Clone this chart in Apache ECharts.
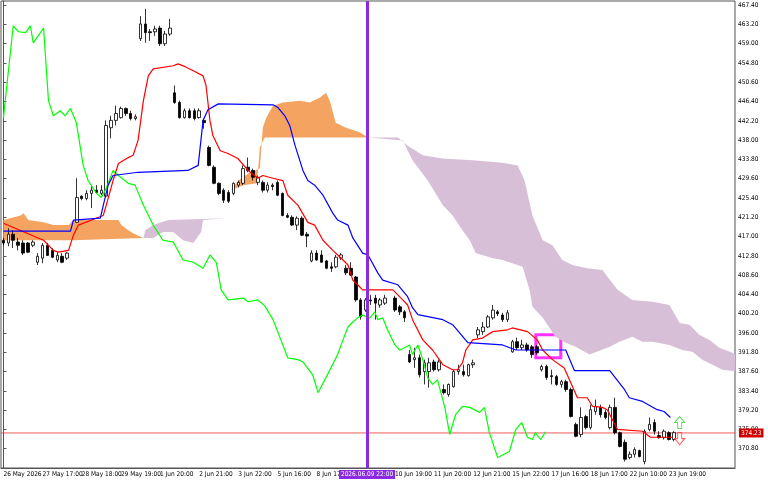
<!DOCTYPE html>
<html>
<head>
<meta charset="utf-8">
<script src="https://cdn.jsdelivr.net/npm/echarts@6/dist/echarts.min.js"></script>
<style>html,body{margin:0;padding:0;background:#fff}#chart{width:768px;height:480px}</style>
</head>
<body>
<div id="chart"></div>
<script>
var N = 150

// time labels every 8 bars
var timeLabels = ['26 May 2026', '27 May 17:00', '28 May 18:00', '29 May 19:00', '1 Jun 20:00', '2 Jun 21:00',
  '3 Jun 22:00', '5 Jun 16:00', '8 Jun 17:00', '', '10 Jun 19:00', '11 Jun 20:00', '12 Jun 21:00',
  '15 Jun 22:00', '17 Jun 16:00', '18 Jun 17:00', '22 Jun 10:00', '23 Jun 19:00']

// [bar, open, close, low, high]
var candles = [
  [0, 416.2, 415.6, 415.1, 416.7], [1, 415.6, 417.5, 414.9, 418.8], [2, 417.5, 416.2, 414.5, 418.4],
  [3, 415.8, 415.1, 414.0, 416.7], [4, 415.6, 413.4, 413.0, 416.2], [5, 415.6, 413.6, 413.4, 415.8],
  [6, 415.1, 415.8, 414.7, 416.2], [7, 411.4, 412.7, 410.8, 413.4], [8, 412.3, 415.1, 411.2, 415.6],
  [9, 415.1, 412.9, 412.8, 415.6], [10, 414.0, 412.5, 412.3, 414.5], [11, 411.9, 412.9, 411.4, 413.6],
  [12, 412.7, 411.4, 411.2, 413.4], [13, 412.3, 413.4, 411.9, 413.6],
  [15, 420.1, 425.5, 420.1, 429.7], [16, 425.8, 425.3, 424.9, 426.0], [17, 425.3, 426.4, 424.9, 427.1],
  [18, 426.4, 427.1, 423.2, 428.2], [19, 427.1, 426.6, 426.4, 428.2], [20, 426.4, 427.1, 426.0, 428.2],
  [21, 425.8, 441.2, 425.5, 442.3], [22, 440.7, 442.3, 438.4, 443.3], [23, 442.3, 443.8, 441.2, 445.5],
  [24, 442.9, 444.9, 442.7, 445.3], [25, 444.9, 443.8, 443.3, 445.1], [26, 443.8, 442.7, 442.3, 444.4],
  [27, 442.7, 443.1, 442.3, 443.6],
  [28, 460.1, 463.3, 459.6, 465.0], [29, 463.3, 461.4, 459.2, 466.6], [30, 461.6, 461.4, 459.6, 462.2],
  [31, 461.6, 462.2, 460.7, 462.9], [32, 462.4, 459.0, 458.5, 462.9], [33, 459.0, 461.1, 458.5, 461.8],
  [34, 461.1, 462.4, 460.7, 464.4],
  [35, 448.3, 446.2, 445.9, 449.9], [36, 446.2, 442.9, 442.7, 446.6], [37, 442.9, 444.4, 442.7, 444.9],
  [38, 444.4, 442.9, 442.7, 444.9], [39, 444.4, 442.7, 442.3, 444.9], [40, 442.9, 444.4, 442.7, 444.9],
  [41, 442.3, 441.8, 440.5, 442.7],
  [42, 436.4, 432.5, 432.3, 436.8], [43, 432.1, 428.6, 428.4, 432.5], [44, 428.6, 426.4, 426.0, 428.8],
  [45, 427.1, 424.9, 424.3, 427.5], [46, 426.6, 424.7, 424.3, 427.1], [47, 426.4, 428.6, 426.0, 428.8],
  [48, 428.2, 428.8, 427.7, 429.2],
  [49, 428.6, 431.8, 428.2, 432.5], [50, 432.1, 431.4, 431.0, 434.2], [51, 431.4, 429.9, 429.2, 431.8],
  [52, 428.8, 429.9, 428.2, 430.3], [53, 428.8, 427.1, 426.6, 429.2], [54, 427.1, 428.2, 426.6, 428.8],
  [55, 428.2, 427.9, 427.1, 428.6], [56, 428.8, 426.0, 425.8, 429.2],
  [57, 426.4, 421.6, 421.4, 426.6], [58, 421.6, 421.2, 421.0, 422.1], [59, 421.2, 419.5, 419.3, 421.6],
  [60, 419.5, 421.0, 418.4, 421.4], [61, 421.0, 417.3, 417.1, 421.4], [62, 417.5, 417.1, 414.7, 418.0],
  [63, 411.7, 413.4, 411.4, 414.0], [64, 413.4, 411.9, 411.7, 414.0], [65, 413.0, 411.4, 411.4, 414.0],
  [66, 411.7, 410.1, 409.9, 411.9], [67, 410.4, 410.1, 409.3, 411.4], [68, 410.4, 412.5, 410.1, 413.0],
  [69, 412.3, 413.0, 411.9, 413.4], [70, 410.1, 409.1, 408.6, 410.8], [71, 410.1, 408.6, 408.4, 411.4],
  [72, 408.2, 403.2, 402.8, 408.4], [73, 403.2, 399.5, 398.9, 403.6], [74, 401.0, 403.2, 400.6, 403.6],
  [75, 403.2, 403.0, 402.1, 404.3], [76, 403.6, 402.5, 398.9, 404.3], [77, 402.1, 403.2, 401.5, 403.6],
  [78, 402.5, 403.6, 402.1, 404.3], [80, 403.6, 401.0, 400.6, 404.1], [81, 401.7, 400.6, 399.9, 402.1],
  [82, 400.6, 399.3, 398.4, 401.0],
  [83, 391.3, 389.7, 389.5, 392.3], [84, 390.2, 390.6, 388.4, 392.8], [85, 390.6, 386.9, 386.3, 391.3],
  [86, 387.6, 389.5, 384.8, 390.2], [87, 387.6, 389.5, 384.1, 390.6], [88, 389.7, 388.0, 387.6, 390.2],
  [89, 388.0, 389.7, 387.6, 390.2], [90, 383.7, 383.0, 382.6, 384.8], [91, 382.6, 384.8, 382.1, 385.0],
  [92, 384.3, 387.6, 384.1, 388.0], [93, 387.6, 388.0, 386.9, 389.1], [94, 387.6, 386.9, 386.5, 389.1],
  [95, 386.7, 389.1, 386.5, 389.3], [96, 389.1, 389.5, 388.4, 390.2],
  [97, 395.6, 396.7, 394.9, 397.3], [98, 396.3, 397.3, 395.6, 398.4], [99, 397.3, 399.5, 397.1, 399.9],
  [100, 399.3, 401.0, 398.9, 402.1], [101, 400.6, 400.2, 399.7, 401.0], [102, 399.9, 398.9, 398.4, 400.4],
  [103, 398.9, 400.4, 398.4, 401.0],
  [104, 391.9, 394.1, 391.7, 394.5], [105, 394.1, 392.8, 392.3, 395.0], [106, 392.8, 393.4, 392.3, 394.5],
  [107, 393.4, 392.3, 391.9, 393.9], [108, 393.0, 391.3, 390.6, 393.4], [109, 393.0, 391.7, 391.3, 393.4],
  [110, 388.0, 388.7, 387.6, 389.1], [111, 388.7, 386.3, 385.8, 389.1], [112, 386.7, 386.5, 384.8, 388.0],
  [113, 386.5, 384.8, 384.5, 386.9], [114, 384.8, 385.4, 384.1, 385.8], [115, 385.4, 383.7, 383.2, 385.8],
  [116, 383.7, 377.8, 377.6, 384.1], [117, 376.1, 373.5, 373.3, 376.5], [118, 373.9, 377.6, 373.3, 379.8],
  [119, 377.8, 375.4, 375.0, 378.2], [120, 375.4, 379.3, 375.0, 380.4], [121, 378.9, 380.0, 378.2, 381.5],
  [122, 379.8, 378.2, 377.6, 380.4], [123, 378.7, 377.6, 377.2, 379.3], [124, 375.4, 379.8, 375.0, 380.4],
  [125, 379.8, 374.3, 373.9, 381.9],
  [126, 374.3, 371.3, 371.1, 374.5], [127, 372.2, 368.5, 368.0, 372.8], [128, 368.9, 369.6, 368.5, 370.2],
  [129, 369.6, 370.6, 368.9, 371.1], [130, 370.4, 369.1, 368.9, 370.6], [131, 368.0, 374.6, 367.4, 375.0],
  [132, 375.0, 376.1, 374.6, 377.6], [133, 376.5, 374.6, 373.9, 377.2], [134, 373.7, 373.2, 373.0, 374.6],
  [135, 373.2, 374.6, 372.8, 375.0], [136, 374.3, 372.8, 372.6, 374.6], [137, 372.8, 374.3, 372.4, 374.6]
]

var tenkan = [[0, 419.9], [7.1, 416.7], [8.2, 416.2], [10.2, 414.0], [11.2, 413.6], [13.3, 414.0], [14.3, 417.3],
  [15.3, 419.5], [20.4, 421.6], [21.0, 423.8], [22.4, 429.2], [23.5, 432.9], [25.5, 434.2], [26.5, 434.7],
  [27.5, 437.9], [28.6, 446.6], [29.6, 452.0], [30.6, 453.5], [34.7, 454.2], [35.7, 454.6], [37.1, 454.0],
  [38.8, 453.1], [40.8, 452.0], [41.4, 449.9], [42.2, 442.3], [42.8, 439.0], [44.3, 435.7], [45.9, 435.1],
  [47.9, 434.0], [50.0, 431.4], [52.0, 429.7], [53.0, 430.3], [55.1, 429.7], [57.1, 429.2], [58.1, 426.0],
  [60.2, 423.8], [62.2, 420.1], [63.6, 419.5], [65.3, 416.2], [67.3, 414.0], [69.4, 411.9], [70.4, 410.8],
  [71.4, 407.5], [72.4, 406.5], [73.4, 405.4], [79.6, 405.4], [81.6, 403.2], [82.6, 402.1], [83.6, 398.9],
  [85.7, 394.5], [87.7, 392.3], [89.8, 389.1], [91.8, 388.0], [92.8, 388.0], [93.8, 389.5], [94.5, 392.3],
  [95.9, 394.5], [97.9, 394.9], [100.0, 396.3], [103.0, 396.7], [104.0, 397.1], [107.1, 396.3], [109.1, 394.5],
  [110.2, 392.3], [112.2, 390.2], [114.6, 388.4], [117.3, 381.9], [119.3, 381.9], [120.4, 380.0], [122.4, 379.8],
  [123.4, 379.3], [125.5, 375.0], [130.6, 374.6], [132.2, 373.3], [136.7, 373.3]]

var kijun = [[0, 418.2], [13.7, 418.2], [14.3, 420.6], [19.8, 421.0], [20.4, 423.8], [21.4, 428.2], [22.4, 430.3],
  [27.5, 431.0], [37.7, 431.4], [39.8, 432.5], [40.8, 442.3], [41.8, 444.6], [43.9, 445.9], [55.1, 445.7],
  [56.1, 445.1], [57.5, 443.3], [58.5, 441.2], [59.6, 436.8], [61.2, 431.4], [62.2, 429.2], [63.6, 428.2],
  [65.3, 426.0], [67.3, 422.1], [68.3, 420.6], [70.4, 419.5], [71.4, 416.7], [73.4, 413.4], [74.5, 413.0],
  [76.5, 409.1], [77.5, 407.5], [80.6, 406.5], [82.6, 403.9], [83.6, 401.5], [84.7, 400.0], [89.8, 398.9],
  [91.8, 397.8], [94.9, 393.9], [102.0, 393.4], [104.7, 392.3], [114.9, 392.3], [116.7, 387.8], [123.9, 387.8],
  [126.9, 383.7], [127.9, 381.9], [130.6, 381.1], [133.6, 379.3], [135.0, 378.9], [136.3, 377.6]]

var chikou = [[0, 442.9], [2.0, 462.9], [3.1, 461.6], [4.5, 461.4], [5.5, 462.9], [6.1, 459.2], [8.2, 462.4],
  [9.2, 446.6], [10.2, 443.3], [11.6, 444.4], [12.6, 443.3], [13.7, 444.9], [14.9, 441.8], [16.3, 432.5],
  [17.3, 429.2], [19.0, 426.4], [20.0, 425.5], [21.0, 427.5], [22.4, 431.4], [23.5, 430.3], [25.5, 428.6],
  [26.9, 428.2], [28.6, 423.8], [30.6, 419.5], [32.6, 416.2], [34.7, 415.8], [36.7, 411.9], [38.8, 411.4],
  [40.8, 410.1], [42.2, 413.0], [43.5, 411.4], [44.5, 405.4], [45.9, 403.2], [49.0, 403.6], [50.0, 402.8],
  [52.0, 403.2], [53.4, 401.9], [55.1, 398.9], [56.7, 394.5], [58.1, 390.6], [60.2, 390.2], [61.2, 389.7],
  [63.2, 386.9], [64.3, 383.0], [66.3, 387.1], [68.3, 391.3], [69.4, 394.5], [70.4, 397.3], [71.4, 398.4],
  [72.4, 399.3], [73.4, 399.9], [74.9, 399.3], [75.9, 400.6], [76.5, 398.9], [77.5, 399.3], [78.5, 396.7],
  [80.0, 393.4], [81.0, 392.3], [82.0, 392.8], [83.0, 393.4], [83.6, 391.3], [84.7, 393.4], [85.7, 390.2],
  [86.7, 386.3], [87.7, 384.8], [88.7, 385.8], [90.2, 379.8], [91.2, 373.9], [92.4, 378.2], [93.8, 380.0],
  [95.3, 379.8], [97.3, 378.7], [98.3, 379.8], [99.3, 374.3], [101.0, 368.9], [103.4, 370.2], [104.7, 375.0],
  [105.9, 376.5], [107.1, 373.3], [108.1, 372.8], [108.7, 374.3], [109.8, 372.8], [110.8, 374.5]]

// cloud outlines (upper edge then lower edge back)
var cloudOrangeLeft = [[0, 420.6], [3.5, 421.6], [4.1, 422.1], [5.1, 420.6], [8.2, 420.1], [10.2, 419.5],
  [13.3, 419.5], [14.3, 420.6], [23.5, 420.6], [24.1, 419.5], [25.5, 418.4], [26.5, 417.7], [28.6, 416.7],
  [14.3, 416.2], [0, 416.2]]
var cloudPurpleLeft = [[28.6, 416.7], [29.0, 418.4], [30.6, 419.5], [33.7, 420.6], [45.3, 421.0],
  [40.8, 420.6], [40.4, 418.0], [38.8, 415.6], [36.7, 416.2], [34.7, 418.0], [32.6, 418.0], [30.6, 416.7]]
var cloudOrangeMid = [[46.5, 427.1], [48.0, 429.2], [50.4, 431.0], [52.4, 431.8], [53.0, 440.7], [53.7, 442.9],
  [55.1, 445.5], [57.1, 446.2], [60.6, 446.6], [62.6, 446.2], [64.7, 447.3], [65.9, 448.3], [66.7, 446.6],
  [67.9, 441.8], [70.0, 440.7], [72.8, 439.7], [74.5, 438.6], [53.4, 438.6], [52.4, 436.4], [51.8, 428.6],
  [49.0, 428.2]]
var cloudPurpleRight = [[74.5, 438.6], [80.6, 438.6], [82.6, 436.8], [85.7, 434.7], [89.8, 434.0], [95.9, 433.6],
  [102.0, 433.1], [105.1, 432.5], [106.5, 429.2], [108.1, 421.6], [110.2, 416.2], [112.2, 415.1], [114.2, 411.9],
  [116.3, 410.8], [119.3, 410.1], [122.4, 409.7], [125.5, 405.4], [128.5, 403.2], [132.6, 402.8], [136.1, 402.1],
  [138.2, 398.2], [140.2, 397.8], [142.2, 395.6], [144.3, 394.5], [146.3, 392.8], [150, 391.3],
  [150, 387.6], [146.9, 388.0], [144.9, 389.1], [142.8, 390.2], [140.8, 391.9], [138.7, 392.3], [136.1, 393.4],
  [132.6, 394.1], [130.6, 394.1], [128.5, 395.2], [125.9, 394.1], [123.9, 393.0], [119.8, 391.3], [116.9, 393.0],
  [114.9, 393.9], [112.8, 395.2], [110.2, 399.3], [108.1, 401.7], [107.5, 405.4], [106.1, 410.4], [102.0, 411.9],
  [100.0, 412.3], [96.5, 413.4], [95.3, 416.2], [93.8, 418.4], [91.8, 421.6], [89.8, 423.8], [86.7, 429.2],
  [83.6, 433.6], [81.6, 437.9]]

var lastPrice = 374.23
var markerBar = 74.3

var clouds = [
  { pts: cloudOrangeLeft, color: '#F4A460' },
  { pts: cloudPurpleLeft, color: '#D8BFD8' },
  { pts: cloudOrangeMid, color: '#F4A460' },
  { pts: cloudPurpleRight, color: '#D8BFD8' }
]

var cats = []
var labelAt = {}
for (var i = 0; i < N; i++) cats.push(String(i))
timeLabels.forEach(function (t, k) { labelAt[k * 8] = t })

var candleData = []
for (var j = 0; j < N; j++) candleData.push('-')
candles.forEach(function (c) { candleData[c[0]] = [c[1], c[2], c[3], c[4]] })

var chart = echarts.init(document.getElementById('chart'))
var font = 'DejaVu Sans Condensed'

chart.setOption({
  animation: false,
  grid: { left: 1, right: 33, top: 1, bottom: 12, show: true, borderColor: '#555', borderWidth: 1 },
  xAxis: [{
    type: 'category',
    data: cats,
    boundaryGap: true,
    axisLine: { lineStyle: { color: '#555' } },
    axisTick: { interval: function (idx) { return labelAt[idx] !== undefined && labelAt[idx] !== '' }, length: 3, lineStyle: { color: '#555' } },
    axisLabel: {
      interval: function (idx) { return labelAt[idx] !== undefined },
      formatter: function (v, idx) { return labelAt[idx] || '' },
      showMinLabel: true, hideOverlap: false,
      align: 'left', margin: 3, fontSize: 6.5, color: '#000', fontFamily: font
    },
    splitLine: { show: false }
  }, {
    type: 'value', min: -0.5, max: N - 0.5, show: false
  }],
  yAxis: {
    type: 'value', position: 'right', min: 366.6, max: 468.3, interval: 4.2, scale: true,
    axisLine: { show: true, lineStyle: { color: '#555' } },
    axisTick: { show: true, length: 3, lineStyle: { color: '#555' } },
    axisLabel: { showMinLabel: false, showMaxLabel: false, fontSize: 6.5, color: '#000', margin: 3, fontFamily: font,
      formatter: function (v) { return v.toFixed(2) } },
    splitLine: { show: false }
  },
  series: [{
    type: 'custom',
    xAxisIndex: 1,
    data: clouds.map(function (c, k) { return [k] }),
    renderItem: function (params, api) {
      var c = clouds[params.dataIndex]
      return {
        type: 'polygon',
        shape: { points: c.pts.map(function (p) { return api.coord(p) }) },
        style: { fill: c.color }
      }
    },
    clip: true, z: 1, silent: true
  }, {
    // current price line
    type: 'line', xAxisIndex: 1, data: [[-0.5, lastPrice], [N - 0.5, lastPrice]], symbol: 'none',
    lineStyle: { color: '#F03030', width: 0.8 }, z: 2, silent: true,
    endLabel: { show: true, formatter: lastPrice.toFixed(2), color: '#fff', backgroundColor: '#D00000',
      fontSize: 6.5, padding: [1, 2], distance: 4, fontFamily: font }
  }, {
    type: 'candlestick',
    data: candleData,
    barWidth: 3,
    itemStyle: { color: '#fff', color0: '#000', borderColor: '#000', borderColor0: '#000', borderWidth: 0.8 },
    z: 3
  }, {
    type: 'line', xAxisIndex: 1, data: chikou, symbol: 'none',
    lineStyle: { color: '#00FF00', width: 1.2 }, z: 4
  }, {
    type: 'line', xAxisIndex: 1, data: tenkan, symbol: 'none',
    lineStyle: { color: '#FF0000', width: 1.2 }, z: 4
  }, {
    type: 'line', xAxisIndex: 1, data: kijun, symbol: 'none',
    lineStyle: { color: '#0000FF', width: 1.2 }, z: 4,
    markLine: {
      symbol: 'none', silent: true,
      lineStyle: { color: '#8A2BE2', width: 3, type: 'solid' },
      data: [{ xAxis: markerBar }],
      label: { position: 'start', formatter: '2026.06.09 22:00', color: '#fff', backgroundColor: '#8A2BE2',
        fontSize: 6.5, padding: [1, 2], distance: 2, fontFamily: font }
    },
    markArea: {
      silent: true,
      itemStyle: { color: 'rgba(0,0,0,0)', borderColor: '#FF33FF', borderWidth: 3 },
      data: [[{ coord: [108.8, 395.6] }, { coord: [113.9, 390.6] }]]
    }
  }, {
    type: 'scatter', xAxisIndex: 1, z: 5, silent: true,
    data: [
      { value: [138.2, 376.5], symbol: 'path://M5,0 L10,5 L7,5 L7,10 L3,10 L3,5 L0,5 Z', itemStyle: { color: '#fff', borderColor: '#33CC33', borderWidth: 1 } },
      { value: [138.2, 373.0], symbol: 'path://M3,0 L7,0 L7,5 L10,5 L5,10 L0,5 L3,5 Z', itemStyle: { color: '#fff', borderColor: '#FF3333', borderWidth: 1 } }
    ],
    symbolSize: [10, 12]
  }]
})
</script>
</body>
</html>
